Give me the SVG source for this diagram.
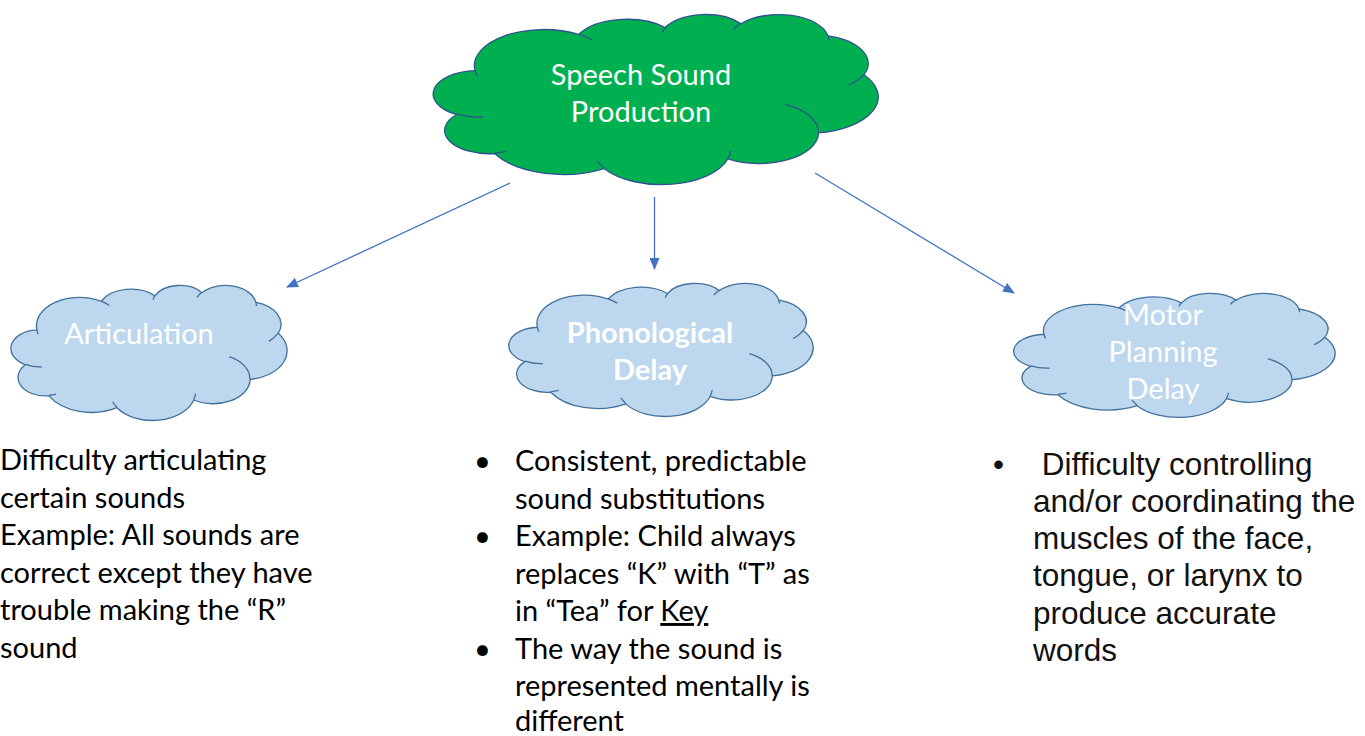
<svg xmlns="http://www.w3.org/2000/svg" xmlns:xlink="http://www.w3.org/1999/xlink" width="1365" height="736" viewBox="0 0 1365 736">
<style>
.cloudtxt{font-family:Lato,"Open Sans","Liberation Sans",sans-serif;font-size:29px;fill:#ffffff;text-anchor:middle}
.body{font-family:Lato,"Open Sans","Liberation Sans",sans-serif;font-size:29px;fill:#000000}
.arial{font-family:"Liberation Sans",Arial,sans-serif;font-size:31.5px;fill:#111111}
.conn{stroke:#4472C4;stroke-width:1.3;fill:none}
</style>
<defs>
<path id="cloudOuter" vector-effect="non-scaling-stroke" d="M3900,14370 A6753,9190 0 0 1 14006.6,5203.5 A5333,7267 0 0 1 22458.7,3431 A4365,5945 0 0 1 29835.4,2477.6 A4857,6595 0 0 1 38319.8,5574.1 A5333,7273 0 0 1 41820.3,15457.9 A6775,9220 0 0 1 37404.6,30198.1 A5785,7867 0 0 1 28555.5,36807.9 A6752,9215 0 0 1 16481.4,39262.6 A7720,10543 0 0 1 5805.9,35467.1 A4360,5918 0 0 1 2114.4,25545.8 A4345,5945 0 0 1 3900,14370 Z"/>
<path id="cloudInner" vector-effect="non-scaling-stroke" fill="none" d="M4693,26177 A4345,5945 0 0 1 2159.4,25379.6 M6928,34899 A4360,5918 0 0 1 5819.5,35280.5 M16478,39090 A6752,9215 0 0 1 15808.7,37346.4 M28827,34751 A6752,9215 0 0 1 28560.5,36659.7 M34129,22954 A5785,7867 0 0 1 37380.6,30089.6 M41798,15354 A5333,7273 0 0 1 40350.1,18029.7 M38324,5426 A4857,6595 0 0 1 38400.4,6689.5 M29078,3952 A4857,6595 0 0 1 29820.7,2338.1 M22141,4720 A4365,5945 0 0 1 22499.9,3330.8 M14000,5192 A6753,9190 0 0 1 15300.4,6541.9 M4127,15789 A6753,9190 0 0 1 3900,14369.7"/>
<marker id="arrow" markerUnits="userSpaceOnUse" markerWidth="12" markerHeight="10" refX="11" refY="5" orient="auto">
<path d="M0,0 L12,5 L0,10 Z" fill="#4472C4"/>
</marker>
</defs>
<rect width="1365" height="736" fill="#ffffff"/>

<g id="connectors">
<line class="conn" x1="510" y1="183" x2="287" y2="287" marker-end="url(#arrow)"/>
<line class="conn" x1="654.5" y1="197" x2="654.5" y2="269" marker-end="url(#arrow)"/>
<line class="conn" x1="815" y1="173" x2="1014" y2="293" marker-end="url(#arrow)"/>
</g>

<g id="speech-sound-production">
<g transform="translate(435,14) scale(0.010255,0.0039352)" fill="#00B050" stroke="#2F528F" stroke-width="1.3">
<use xlink:href="#cloudOuter"/>
<use xlink:href="#cloudInner"/>
</g>
<text class="cloudtxt" x="641" y="85">Speech Sound</text>
<text class="cloudtxt" x="641" y="122">Production</text>
</g>

<g id="articulation">
<g transform="translate(12,285) scale(0.0063657,0.003125)" fill="#BDD7EE" stroke="#41719C" stroke-width="1.3">
<use xlink:href="#cloudOuter"/>
<use xlink:href="#cloudInner"/>
</g>
<text class="cloudtxt" x="139" y="344">Articulation</text>
</g>

<g id="phonological-delay">
<g transform="translate(510,283) scale(0.0070139,0.0030787)" fill="#BDD7EE" stroke="#41719C" stroke-width="1.3">
<use xlink:href="#cloudOuter"/>
<use xlink:href="#cloudInner"/>
</g>
<text class="cloudtxt" x="650" y="343" font-weight="bold">Phonological</text>
<text class="cloudtxt" x="650" y="380" font-weight="bold">Delay</text>
</g>

<g id="motor-planning-delay">
<g transform="translate(1015,293) scale(0.0074074,0.0028704)" fill="#BDD7EE" stroke="#41719C" stroke-width="1.3">
<use xlink:href="#cloudOuter"/>
<use xlink:href="#cloudInner"/>
</g>
<text class="cloudtxt" x="1163" y="325">Motor</text>
<text class="cloudtxt" x="1163" y="362">Planning</text>
<text class="cloudtxt" x="1163" y="399">Delay</text>
</g>

<g id="articulation-text">
<text class="body" x="0" y="470">Difficulty articulating</text>
<text class="body" x="0" y="507.6">certain sounds</text>
<text class="body" x="0" y="545.2">Example: All sounds are</text>
<text class="body" x="0" y="582.8">correct except they have</text>
<text class="body" x="0" y="620.4">trouble making the “R”</text>
<text class="body" x="0" y="658">sound</text>
</g>

<g id="phonological-text">
<text class="body" x="474" y="471">•</text>
<text class="body" x="515" y="471">Consistent, predictable</text>
<text class="body" x="515" y="508.5">sound substitutions</text>
<text class="body" x="474" y="546">•</text>
<text class="body" x="515" y="546">Example: Child always</text>
<text class="body" x="515" y="583.5">replaces “K” with “T” as</text>
<text class="body" x="515" y="621">in “Tea” for <tspan text-decoration="underline">Key</tspan></text>
<text class="body" x="474" y="658.5">•</text>
<text class="body" x="515" y="658.5">The way the sound is</text>
<text class="body" x="515" y="695.5">represented mentally is</text>
<text class="body" x="515" y="730.5">different</text>
</g>

<g id="motor-text">
<text class="arial" x="993" y="474.5">•</text>
<text class="arial" x="1033" y="474.5" xml:space="preserve"> Difficulty controlling</text>
<text class="arial" x="1033" y="511.8">and/or coordinating the</text>
<text class="arial" x="1033" y="549.1">muscles of the face,</text>
<text class="arial" x="1033" y="586.4">tongue, or larynx to</text>
<text class="arial" x="1033" y="623.7">produce accurate</text>
<text class="arial" x="1033" y="661">words</text>
</g>
</svg>
